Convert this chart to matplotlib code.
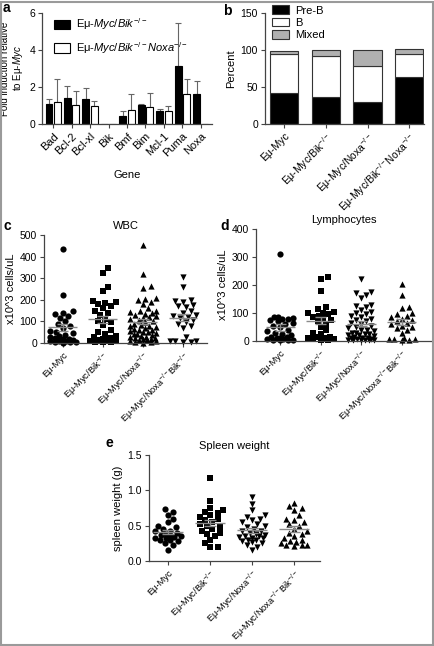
import matplotlib
matplotlib.use("Agg")
import matplotlib.pyplot as plt
import numpy as np
from matplotlib.patches import Rectangle

plt.rcParams['font.family'] = ['Liberation Sans', 'DejaVu Sans']
plt.rcParams['mathtext.fontset'] = 'custom'
plt.rcParams['mathtext.rm'] = 'Liberation Sans'
plt.rcParams['mathtext.it'] = 'Liberation Sans:italic'
plt.rcParams['font.size'] = 7.5

# ---- panel a data ----
genes = ["Bad", "Bcl-2", "Bcl-xl", "Bik", "Bmf", "Bim", "Mcl-1", "Puma", "Noxa"]
bik_mean = [1.10, 1.42, 1.35, 0.0, 0.45, 1.02, 0.68, 3.15, 1.62]
bik_err = [0.25, 0.66, 0.60, 0.0, 0.23, 0.08, 0.12, 2.30, 0.73]
bnx_mean = [1.20, 1.02, 0.98, 0.0, 0.75, 0.90, 0.68, 1.62, 0.0]
bnx_err = [1.25, 0.78, 0.24, 0.0, 0.85, 0.75, 0.32, 0.80, 0.0]

# ---- panel b data ----
b_groups = ["Eμ-Myc", "Eμ-Myc/Bik$^{-/-}$", "Eμ-Myc/Noxa$^{-/-}$", "Eμ-Myc/Bik$^{-/-}$Noxa$^{-/-}$"]
preb = [42, 36, 30, 63]
bcell = [52, 56, 48, 31]
mixed = [4, 8, 22, 7]

# ---- panels c-e data ----
cde_groups = ["Eμ-Myc", "Eμ-Myc/Bik$^{-/-}$", "Eμ-Myc/Noxa$^{-/-}$", "Eμ-Myc/Noxa$^{-/-}$Bik$^{-/-}$"]

wbc_myc = [435, 220, 148, 140, 135, 125, 115, 100, 90, 80, 70, 55, 50, 45, 38, 32, 28,
           24, 20, 17, 14, 11, 9, 7, 5, 4, 3, 2]
wbc_bik = [345, 325, 260, 240, 195, 190, 185, 180, 170, 160, 150, 140, 130, 110, 100, 95,
           85, 60, 50, 40, 32, 28, 24, 20, 16, 13, 10, 8, 6, 4, 3]
wbc_noxa = [455, 320, 265, 255, 210, 205, 200, 190, 180, 160, 150, 150, 145, 140, 135, 130,
            125, 120, 115, 110, 105, 100, 95, 90, 85, 80, 80, 75, 70, 65, 60, 60, 55, 50,
            50, 45, 40, 40, 35, 32, 30, 27, 25, 22, 20, 17, 15, 12, 10, 8, 6, 4, 2]
wbc_nxbik = [305, 260, 200, 195, 190, 175, 170, 165, 150, 140, 130, 125, 120, 115, 105, 95,
             90, 80, 70, 30, 10, 8, 8, 5, 5]

ly_myc = [310, 85, 85, 82, 80, 78, 75, 70, 65, 60, 55, 50, 40, 35, 30, 25, 20, 16, 13, 11,
          9, 8, 6, 5, 4, 3, 2]
ly_bik = [230, 222, 178, 120, 115, 105, 100, 100, 95, 90, 85, 80, 75, 70, 60, 50, 40, 30,
          25, 16, 13, 11, 10, 8, 7, 5, 4]
ly_noxa = [222, 175, 170, 165, 155, 130, 125, 120, 110, 105, 100, 95, 90, 85, 80, 75, 70,
           65, 60, 55, 50, 45, 40, 40, 35, 30, 30, 25, 25, 20, 20, 17, 15, 12, 10, 9, 8,
           6, 5, 4, 3, 3, 2, 2]
ly_nxbik = [205, 165, 120, 118, 100, 95, 90, 85, 80, 75, 70, 65, 60, 55, 50, 45, 40, 30,
            10, 8, 8, 6, 5, 5]

sp_myc = [0.73, 0.70, 0.65, 0.60, 0.55, 0.50, 0.48, 0.45, 0.43, 0.42, 0.40, 0.38, 0.37,
          0.36, 0.35, 0.34, 0.33, 0.32, 0.30, 0.30, 0.28, 0.25, 0.22, 0.15]
sp_bik = [1.17, 0.85, 0.75, 0.72, 0.70, 0.68, 0.65, 0.62, 0.60, 0.58, 0.55, 0.52, 0.50,
          0.48, 0.45, 0.42, 0.40, 0.38, 0.35, 0.30, 0.25, 0.20, 0.20]
sp_noxa = [0.90, 0.80, 0.72, 0.65, 0.62, 0.60, 0.58, 0.55, 0.52, 0.50, 0.48, 0.45, 0.43,
           0.42, 0.40, 0.38, 0.37, 0.36, 0.35, 0.34, 0.33, 0.32, 0.30, 0.30, 0.28, 0.27,
           0.25, 0.22, 0.20, 0.15]
sp_nxbik = [0.82, 0.78, 0.75, 0.72, 0.65, 0.60, 0.58, 0.55, 0.52, 0.50, 0.45, 0.42, 0.40,
            0.38, 0.35, 0.33, 0.30, 0.28, 0.27, 0.25, 0.23, 0.22, 0.22, 0.21]

W, H = 434, 646
fig = plt.figure(figsize=(W / 100, H / 100), dpi=100)
AXC = '#444444'


def px_axes(L, T, R, B):
    return fig.add_axes([L / W, 1 - B / H, (R - L) / W, (B - T) / H])


def style(ax):
    for s in ['top', 'right']:
        ax.spines[s].set_visible(False)
    for s in ['left', 'bottom']:
        ax.spines[s].set_color(AXC)
        ax.spines[s].set_linewidth(0.9)
    ax.tick_params(colors=AXC, labelcolor='black', length=3, width=0.8, pad=2)


def swarm(vals, ymax, hpx, upx, d=5.6, maxw=13.5):
    # beeswarm in pixel space with a max half-width; returns x offsets in data units
    y = np.asarray(vals, float) / ymax * hpx
    xs = np.zeros(len(y))
    placed = []
    for i in np.argsort(y):
        dd = d
        xp = None
        while xp is None:
            step = dd / 2.2
            for j in range(80):
                k = (j + 1) // 2 * (1 if j % 2 else -1)
                c = k * step
                if abs(c) > maxw:
                    break
                if all((c - px) ** 2 + (y[i] - py) ** 2 >= dd * dd for px, py in placed):
                    xp = c
                    break
            dd *= 0.85
        placed.append((xp, y[i]))
        xs[i] = xp
    return xs / upx


def scatter_panel(ax, data, markers, ymax, yticks, title, ylabel, hpx, upx, fmt=None):
    for i, (vals, m) in enumerate(zip(data, markers)):
        xs = i + swarm(vals, ymax, hpx, upx)
        ax.scatter(xs, vals, marker=m, s=20, color='black', linewidths=0, zorder=2,
                   clip_on=False)
        v = np.asarray(vals, float)
        mu = v.mean()
        se = v.std(ddof=1) / np.sqrt(len(v))
        ax.hlines(mu, i - 0.36, i + 0.36, color='#8a8a8a', lw=1.0, zorder=3)
        ax.hlines([mu - se, mu + se], i - 0.14, i + 0.14, color='#8a8a8a', lw=1.0, zorder=3)
        ax.vlines(i, mu - se, mu + se, color='#8a8a8a', lw=1.0, zorder=3)
    ax.set_ylim(0, ymax)
    ax.set_yticks(yticks)
    if fmt:
        ax.set_yticklabels([fmt % t for t in yticks])
    ax.set_xticks(range(4))
    ax.set_xticklabels(cde_groups, rotation=45, ha='right', rotation_mode='anchor',
                       fontsize=6.7)
    ax.set_title(title, fontsize=8, pad=4)
    ax.set_ylabel(ylabel, fontsize=8, labelpad=3)
    style(ax)


# ---------------- panel a ----------------
axa = px_axes(42, 13, 212, 124)
x = np.arange(len(genes))
off, bw = 0.23, 0.36
hb = axa.bar(x - off, bik_mean, bw, color='black', edgecolor='black', lw=0.8, zorder=2)
hw = axa.bar(x + off, bnx_mean, bw, color='white', edgecolor='black', lw=0.8, zorder=2)
for i in range(len(genes)):
    if bik_err[i] > 0:
        axa.errorbar(x[i] - off, bik_mean[i], yerr=[[0], [bik_err[i]]], fmt='none',
                     ecolor='#666666', elinewidth=0.8, capsize=2, capthick=0.8, zorder=1)
    if bnx_err[i] > 0:
        axa.errorbar(x[i] + off, bnx_mean[i], yerr=[[0], [bnx_err[i]]], fmt='none',
                     ecolor='#666666', elinewidth=0.8, capsize=2, capthick=0.8, zorder=1)
axa.set_xlim(-0.6, 8.6)
axa.set_ylim(0, 6)
axa.set_yticks([0, 2, 4, 6])
axa.set_xticks(x)
axa.set_xticklabels(genes, rotation=45, ha='right', rotation_mode='anchor', fontsize=8)
axa.set_xlabel("Gene", fontsize=8, labelpad=8)
axa.set_ylabel("Fold induction relative\nto Eμ-$\\it{Myc}$", fontsize=7.0, labelpad=3,
               linespacing=1.15)
style(axa)
axa.legend([hb, hw], ["Eμ-$\\it{Myc/Bik}^{-/-}$", "Eμ-$\\it{Myc/Bik}^{-/-}\\it{Noxa}^{-/-}$"],
           loc='upper left', bbox_to_anchor=(50 / W, 1 - 12 / H), bbox_transform=fig.transFigure,
           frameon=False, fontsize=8, handlelength=1.4, handleheight=0.9,
           labelspacing=0.7, handletextpad=0.5, borderaxespad=0)

# ---------------- panel b ----------------
axb = px_axes(265, 13, 424, 124)
xb = np.arange(4)
wb = 0.67
hp = axb.bar(xb, preb, wb, color='black', edgecolor='#333333', lw=0.8)
hbb = axb.bar(xb, bcell, wb, bottom=preb, color='white', edgecolor='#333333', lw=0.8)
hm = axb.bar(xb, mixed, wb, bottom=np.add(preb, bcell), color='#b0b0b0',
             edgecolor='#333333', lw=0.8)
axb.set_xlim(-0.45, 3.35)
axb.set_ylim(0, 150)
axb.set_yticks([0, 50, 100, 150])
axb.set_xticks(xb)
axb.set_xticklabels(b_groups, rotation=45, ha='right', rotation_mode='anchor')
axb.set_ylabel("Percent", fontsize=8, labelpad=3)
style(axb)
axb.legend([hp, hbb, hm], ["Pre-B", "B", "Mixed"], loc='upper left',
           bbox_to_anchor=(268 / W, 1 - 1 / H), bbox_transform=fig.transFigure,
           frameon=False, fontsize=8, handlelength=1.5, handleheight=0.8,
           labelspacing=0.2, handletextpad=0.5, borderaxespad=0)

# ---------------- panel c ----------------
axc = px_axes(44, 235, 207, 343)
axc.set_xlim(-0.47, 3.6)
scatter_panel(axc, [wbc_myc, wbc_bik, wbc_noxa, wbc_nxbik], ['o', 's', '^', 'v'], 500,
              [0, 100, 200, 300, 400, 500], "WBC", "x10^3 cells/uL", 108, 40)

# ---------------- panel d ----------------
axd = px_axes(256, 229, 432, 341)
axd.set_xlim(-0.6, 3.75)
scatter_panel(axd, [ly_myc, ly_bik, ly_noxa, ly_nxbik], ['o', 's', 'v', '^'], 400,
              [0, 100, 200, 300, 400], "Lymphocytes", "x10^3 cells/uL", 112, 40)

# ---------------- panel e ----------------
axe = px_axes(149, 455, 320, 561)
axe.set_xlim(-0.45, 3.62)
scatter_panel(axe, [sp_myc, sp_bik, sp_noxa, sp_nxbik], ['o', 's', 'v', '^'], 1.5,
              [0, 0.5, 1.0, 1.5], "Spleen weight", "spleen weight (g)", 106, 42, fmt="%.1f")

# panel letters
for lab, px, py in [("a", 3, 1), ("b", 223, 4), ("c", 3, 219), ("d", 220, 219), ("e", 106, 436)]:
    fig.text(px / W, 1 - py / H, lab, fontsize=10, fontweight='bold', va='top', ha='left')

# figure frame
fig.patches.append(Rectangle((0.002, 0.002), 0.995, 0.995, transform=fig.transFigure,
                             fill=False, edgecolor='#9a9a9a', lw=1.5))

fig.savefig("out.png", dpi=100)
